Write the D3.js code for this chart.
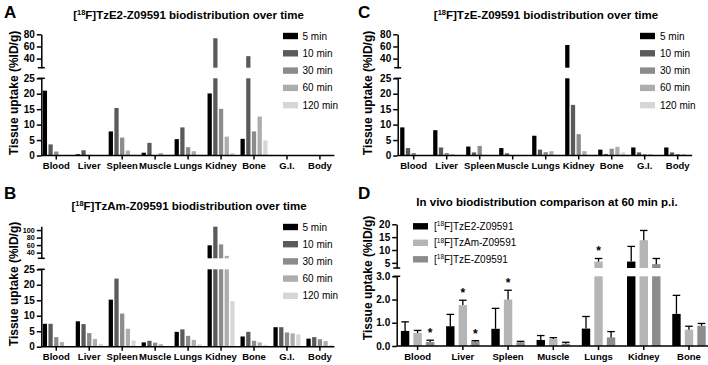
<!DOCTYPE html>
<html>
<head>
<meta charset="utf-8">
<title>Biodistribution over time</title>
<script src="https://cdnjs.cloudflare.com/ajax/libs/d3/7.8.5/d3.min.js"></script>
<style>
body { margin:0; background:#fff; }
svg { display:block; font-family:"Liberation Sans", Arial, Helvetica, sans-serif; }
.axis path, .axis line { stroke:#000; stroke-width:1.5px; }
.axis text { font-size:10px; font-weight:bold; fill:#000; }
.legend text { font-size:10px; fill:#000; }
</style>
</head>
<body>
<div id="chart"></div>
<script>
// organs for the time course panels (A, B, C)
var organs = ["Blood", "Liver", "Spleen", "Muscle", "Lungs", "Kidney", "Bone", "G.I.", "Body"];
var times = ["5 min", "10 min", "30 min", "60 min", "120 min"];
var timeColors = ["#000000", "#5a5a5a", "#8c8c8c", "#adadad", "#d6d6d6"];

// %ID/g, one row per time point, same order as organs
var tze2 = [
    [21.0, 0.4, 7.8, 0.9, 5.3, 20.1, 5.4, 0, 0],
    [3.6, 1.7, 15.4, 4.1, 9.1, 73.5, 44.0, 0, 0],
    [1.3, 0.2, 5.8, 0.2, 2.7, 15.1, 7.8, 0, 0],
    [0, 0, 1.6, 0.8, 1.4, 6.1, 12.6, 0, 0],
    [0, 0, 0, 0, 0, 0.8, 4.9, 0, 0]
];
var tzam = [
    [7.4, 8.2, 15.2, 1.4, 4.8, 59.5, 3.3, 6.3, 2.6],
    [7.4, 7.3, 22.0, 1.9, 5.6, 109, 4.8, 6.3, 3.1],
    [3.1, 4.4, 10.7, 1.3, 3.5, 62.0, 1.9, 4.6, 2.4],
    [1.5, 2.5, 5.8, 0.8, 2.2, 31.5, 1.4, 4.3, 1.8],
    [0.2, 0.9, 2.0, 0.2, 0.8, 14.7, 0.6, 4.0, 0.6]
];
var tze = [
    [9.1, 8.2, 2.9, 2.4, 6.4, 62.4, 1.9, 2.6, 2.6],
    [2.4, 2.6, 1.0, 0.7, 1.9, 16.4, 0.5, 1.0, 1.0],
    [0.8, 0.8, 3.1, 0, 1.1, 6.9, 2.2, 0.4, 0.5],
    [0, 0.4, 0, 0, 1.4, 1.4, 2.8, 0.4, 0.4],
    [0, 0, 0, 0, 0, 0, 1.0, 0, 0]
];

// panel D, 60 min p.i.
var organsD = ["Blood", "Liver", "Spleen", "Muscle", "Lungs", "Kidney", "Bone"];
var tracers = ["TzE2-Z09591", "TzAm-Z09591", "TzE-Z09591"];
var tracerColors = ["#000000", "#b5b5b5", "#8c8c8c"];
var meanD = [
    [0.65, 0.85, 0.74, 0.26, 0.75, 5.5, 1.38],
    [0.56, 1.76, 2.00, 0.30, 5.5, 13.8, 0.70],
    [0.17, 0.20, 0.16, 0.10, 0.37, 4.5, 0.87]
];
var sdD = [
    [0.39, 0.51, 0.88, 0.19, 0.52, 5.9, 0.80],
    [0.11, 0.21, 0.40, 0.06, 1.2, 3.8, 0.15],
    [0.08, 0.03, 0.04, 0.06, 0.25, 2.2, 0.10]
];
// significance stars: [organ index, tracer index]
var starsD = [[0, 2], [1, 1], [1, 2], [2, 1], [4, 1]];

var width = 708, height = 365;
var svg = d3.select("#chart").append("svg")
    .attr("width", width)
    .attr("height", height);

// title text with a superscript 18 before F
function isoText(sel, rest, size) {
    sel.append("tspan").text("[");
    sel.append("tspan").attr("dy", -size * 0.38).style("font-size", (size * 0.65) + "px").text("18");
    sel.append("tspan").attr("dy", size * 0.38).text("F]" + rest);
}

function panel(cfg) {
    var g = svg.append("g");
    var x0 = d3.scaleBand().domain(cfg.cats).range(cfg.xr).paddingInner(cfg.pad).paddingOuter(cfg.pad / 2);
    var x1 = d3.scaleBand().domain(d3.range(cfg.values.length)).range([0, x0.bandwidth()]).paddingInner(cfg.pad1);
    var yLo = d3.scaleLinear().domain([0, cfg.brk]).range([cfg.base, cfg.loTop]);
    var yHi = d3.scaleLinear().domain([cfg.brk, cfg.max]).range([cfg.hiBot, cfg.top]);

    // bars, split over the two axis segments
    cfg.values.forEach(function(row, i) {
        var sg = g.append("g").attr("fill", cfg.colors[i]);
        sg.selectAll("rect.lo").data(row).enter().append("rect")
            .attr("x", function(d, j) { return x0(cfg.cats[j]) + x1(i); })
            .attr("width", x1.bandwidth())
            .attr("y", function(d) { return yLo(Math.min(d, cfg.brk)); })
            .attr("height", function(d) { return cfg.base - yLo(Math.min(d, cfg.brk)); });
        row.forEach(function(d, j) {
            if (d <= cfg.brk) return;
            sg.append("rect")
                .attr("x", x0(cfg.cats[j]) + x1(i))
                .attr("width", x1.bandwidth())
                .attr("y", yHi(d))
                .attr("height", cfg.hiBot - yHi(d));
        });
    });

    // error bars (upper only) and stars
    if (cfg.sd) {
        var eg = g.append("g").attr("stroke", "#000").attr("stroke-width", 1.3).attr("fill", "none");
        cfg.values.forEach(function(row, i) {
            row.forEach(function(m, j) {
                var top = m + cfg.sd[i][j];
                var y = top > cfg.brk ? yHi(top) : yLo(top);
                var y0 = m > cfg.brk ? yHi(m) : yLo(m);
                var cx = x0(cfg.cats[j]) + x1(i) + x1.bandwidth() / 2;
                var cw = x1.bandwidth() * 0.45;
                eg.append("line").attr("x1", cx).attr("x2", cx).attr("y1", y0).attr("y2", y);
                eg.append("line").attr("x1", cx - cw).attr("x2", cx + cw).attr("y1", y).attr("y2", y);
            });
        });
        cfg.stars.forEach(function(s) {
            var top = cfg.values[s[1]][s[0]] + cfg.sd[s[1]][s[0]];
            var y = top > cfg.brk ? yHi(top) : yLo(top);
            g.append("text")
                .attr("x", x0(cfg.cats[s[0]]) + x1(s[1]) + x1.bandwidth() / 2)
                .attr("y", y - 3)
                .attr("text-anchor", "middle")
                .style("font-size", "12px").style("font-weight", "bold")
                .text("*");
        });
    }

    // y axis, two segments
    g.append("g").attr("class", "axis").attr("transform", "translate(" + cfg.ax + ",0)")
        .call(d3.axisLeft(yLo).tickValues(cfg.loTicks).tickSize(4.5).tickSizeOuter(0).tickPadding(2));
    var hiAxis = g.append("g").attr("class", "axis").attr("transform", "translate(" + cfg.ax + ",0)")
        .call(d3.axisLeft(yHi).tickValues(cfg.hiTicks).tickSize(4.5).tickSizeOuter(0).tickPadding(2));
    if (cfg.hiSize) hiAxis.selectAll("text").style("font-size", cfg.hiSize + "px");
    [cfg.hiBot, cfg.loTop].forEach(function(y) {
        g.append("line").attr("x1", cfg.ax - 3.5).attr("x2", cfg.ax + 3.5).attr("y1", y).attr("y2", y)
            .attr("stroke", "#000").attr("stroke-width", 1.5);
    });

    // x axis
    var xa = g.append("g").attr("class", "axis").attr("transform", "translate(0," + cfg.base + ")")
        .call(d3.axisBottom(x0).tickSize(4).tickSizeOuter(0).tickPadding(3));
    xa.select(".domain").remove();
    xa.selectAll("text").style("font-size", cfg.catSize + "px");
    g.append("line").attr("x1", cfg.ax).attr("x2", cfg.xr[1] - 2).attr("y1", cfg.base).attr("y2", cfg.base)
        .attr("stroke", "#000").attr("stroke-width", 1.5);

    // y label
    g.append("text")
        .attr("transform", "translate(" + cfg.ylab[0] + "," + cfg.ylab[1] + ") rotate(-90)")
        .attr("text-anchor", "middle")
        .style("font-size", "12px").style("font-weight", "bold")
        .text("Tissue uptake (%ID/g)");

    // title and panel letter
    var t = g.append("text").attr("x", cfg.title[0]).attr("y", cfg.title[1])
        .attr("text-anchor", "middle").style("font-size", "11.5px").style("font-weight", "bold");
    if (cfg.iso) {
        isoText(t, cfg.titleText, 11.5);
    } else {
        t.text(cfg.titleText);
    }
    g.append("text").attr("x", cfg.letter[0]).attr("y", cfg.letter[1])
        .style("font-size", "17px").style("font-weight", "bold").text(cfg.letterText);

    // legend
    var lg = g.append("g").attr("class", "legend");
    cfg.names.forEach(function(n, i) {
        var y = cfg.leg[1] + i * cfg.leg[2];
        lg.append("rect").attr("x", cfg.leg[0]).attr("y", y - 3.2).attr("width", 15).attr("height", 6.4)
            .attr("fill", cfg.colors[i]);
        var lt = lg.append("text").attr("x", cfg.leg[0] + cfg.leg[3]).attr("y", y + 3.5);
        if (cfg.legIso) {
            isoText(lt, n, 10);
        } else {
            lt.text(n);
        }
    });
}

var common = {
    cats: organs, colors: timeColors, names: times,
    pad: 0.18, pad1: 0.25, brk: 25, catSize: 9.5,
    loTicks: [0, 5, 10, 15, 20, 25], iso: true
};

panel(Object.assign({}, common, {
    values: tze2, xr: [39.8, 336.4], ax: 41.3,
    base: 155.5, loTop: 78.3, hiBot: 67.7, top: 34.3, max: 80, hiTicks: [40, 60, 80],
    ylab: [18, 93], title: [188.5, 19], titleText: "TzE2-Z09591 biodistribution over time",
    letter: [4, 17.5], letterText: "A", leg: [283, 36, 17.3, 19.5]
}));

panel(Object.assign({}, common, {
    values: tzam, xr: [39.8, 336.4], ax: 41.3,
    base: 346.7, loTop: 269.3, hiBot: 258.3, top: 226.3, max: 110, hiTicks: [40, 60, 80, 100], hiSize: 7.2,
    ylab: [18, 284], title: [189, 210], titleText: "TzAm-Z09591 biodistribution over time",
    letter: [4, 199], letterText: "B", leg: [283, 227, 17.2, 19.5]
}));

panel(Object.assign({}, common, {
    values: tze, xr: [397.2, 694.2], ax: 397.7,
    base: 155.5, loTop: 78.3, hiBot: 67.7, top: 34.3, max: 80, hiTicks: [40, 60, 80],
    ylab: [372, 93], title: [546, 19], titleText: "TzE-Z09591 biodistribution over time",
    letter: [358, 17.5], letterText: "C", leg: [640, 36, 17.3, 20]
}));

panel({
    cats: organsD, colors: tracerColors, names: tracers, values: meanD, sd: sdD, stars: starsD,
    pad: 0.26, pad1: 0.33, brk: 3, catSize: 9.5,
    xr: [395, 711.6], ax: 396.7,
    base: 346, loTop: 276.3, hiBot: 268, top: 224.3, max: 20,
    loTicks: [0, 1, 2, 3], hiTicks: [5, 10, 15, 20],
    ylab: [372, 278], title: [547, 206], titleText: "In vivo biodistribution comparison at 60 min p.i.", iso: false,
    letter: [358, 199], letterText: "D", leg: [413, 226.3, 16.5, 21], legIso: true
});
</script>
</body>
</html>
